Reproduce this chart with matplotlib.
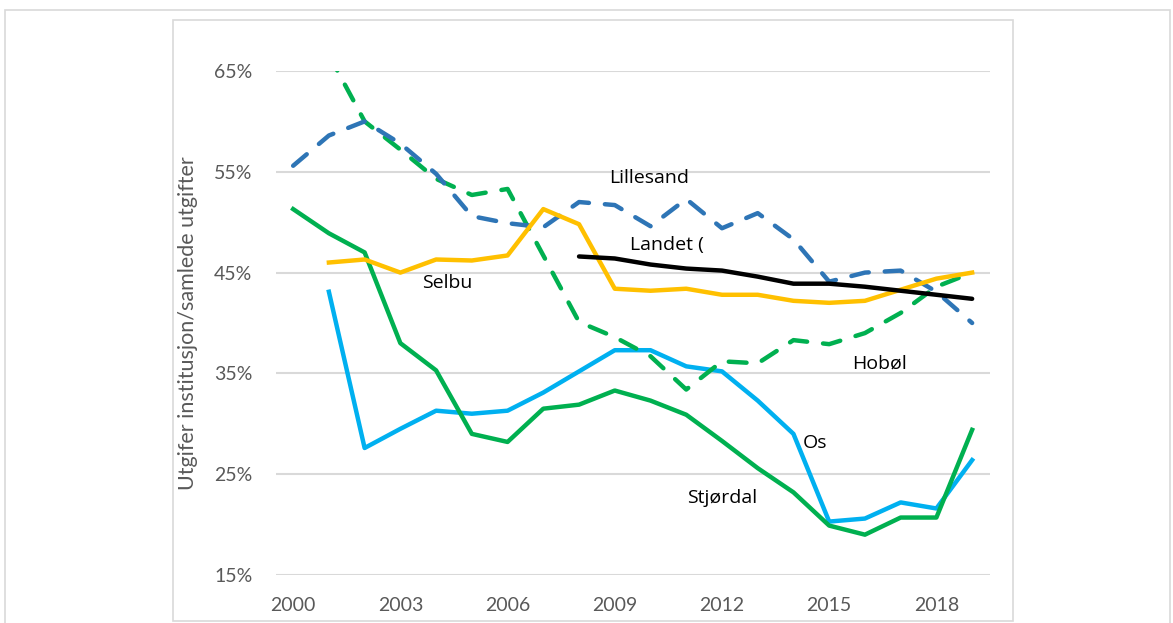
import numpy as np
import matplotlib
matplotlib.use('Agg')
import matplotlib.pyplot as plt
import matplotlib.patches as patches

# data (share of total expenses, %)
years = list(range(2000, 2020))
nan = np.nan

stjordal = [51.3, 48.9, 47.0, 38.0, 35.3, 29.0, 28.2, 31.5, 31.9, 33.3,
            32.3, 30.9, 28.3, 25.6, 23.2, 19.9, 19.0, 20.7, 20.7, 29.4]
os_ = [nan, 43.1, 27.6, 29.5, 31.3, 31.0, 31.3, 33.1, 35.2, 37.3,
       37.3, 35.7, 35.2, 32.3, 29.0, 20.3, 20.6, 22.2, 21.6, 26.4]
selbu = [nan, 46.0, 46.3, 45.0, 46.3, 46.2, 46.7, 51.3, 49.8, 43.4,
         43.2, 43.4, 42.8, 42.8, 42.2, 42.0, 42.2, 43.3, 44.4, 45.0]
landet = [nan, nan, nan, nan, nan, nan, nan, nan, 46.6, 46.4,
          45.8, 45.4, 45.2, 44.6, 43.9, 43.9, 43.6, 43.2, 42.8, 42.4]
lillesand = [55.6, 58.6, 60.0, 57.8, 54.8, 50.6, 49.9, 49.5, 52.0, 51.7,
             49.6, 52.3, 49.4, 50.9, 48.3, 44.1, 45.0, 45.2, 43.1, 40.0]
hobol = [nan, 66.6, 60.0, 57.2, 54.3, 52.7, 53.3, 46.7, 40.1, 38.6,
         36.7, 33.4, 36.2, 36.0, 38.3, 37.9, 39.0, 41.0, 43.6, 45.0]

yticks = [15, 25, 35, 45, 55, 65]
xticks = [2000, 2003, 2006, 2009, 2012, 2015, 2018]

plt.rcParams['font.family'] = ['Lato', 'DejaVu Sans']

fig = plt.figure(figsize=(11.73, 6.23), dpi=100)

# frames (chart area and plot area borders)
W, H = 1173, 623
fig.add_artist(patches.Rectangle((5 / W, -0.05), 1165 / W, (623 - 10) / H + 0.05,
                                 transform=fig.transFigure, fill=False,
                                 edgecolor='#D9D9D9', linewidth=1.2))
fig.add_artist(patches.Rectangle((173 / W, (623 - 621) / H), 840 / W, 601 / H,
                                 transform=fig.transFigure, fill=False,
                                 edgecolor='#D9D9D9', linewidth=1.2))

ax = fig.add_axes([276 / W, 48 / H, 714 / W, 504 / H])

lw = 3.2
dash = (0, (4, 3.6))
ax.plot(years, os_, color='#00B0F0', lw=lw, solid_joinstyle='round')
ax.plot(years, stjordal, color='#00B050', lw=lw, solid_joinstyle='round')
ax.plot(years, hobol, color='#00B050', lw=lw, linestyle=dash,
        dash_capstyle='round', dash_joinstyle='round')
ax.plot(years, lillesand, color='#2E75B6', lw=lw, linestyle=dash,
        dash_capstyle='round', dash_joinstyle='round')
ax.plot(years, selbu, color='#FFC000', lw=lw, solid_joinstyle='round')
ax.plot(years, landet, color='black', lw=lw, solid_joinstyle='round',
        solid_capstyle='round')

ax.set_xlim(1999.52, 2019.5)
ax.set_ylim(15, 65)
ax.set_yticks(yticks)
ax.set_yticklabels([f'{v}%' for v in yticks])
ax.set_xticks(xticks)
ax.set_xticklabels([str(v) for v in xticks])
ax.grid(axis='y', color='#D9D9D9', linewidth=1.5)
ax.set_axisbelow(True)
for s in ax.spines.values():
    s.set_visible(False)
ax.tick_params(length=0, labelsize=14, colors='#595959')
ax.tick_params(axis='y', pad=17)
ax.tick_params(axis='x', pad=16)

ax.set_ylabel('Utgifer institusjon/samlede utgifter', fontsize=15.5,
              color='#595959')
ax.yaxis.set_label_coords(-0.109, 0.5)

# series labels
lab = dict(fontsize=14, color='black', ha='center', va='center',
           family=['Open Sans', 'DejaVu Sans'])
ax.text(2009.95, 54.4, 'Lillesand', **lab)
ax.text(2010.45, 47.7, 'Landet (', **lab)
ax.text(2004.3, 44.0, 'Selbu', **lab)
ax.text(2016.4, 36.0, 'Hobøl', **lab)
ax.text(2014.6, 28.1, 'Os', **lab)
ax.text(2012.0, 22.6, 'Stjørdal', **lab)

plt.savefig('out.png', dpi=100)
